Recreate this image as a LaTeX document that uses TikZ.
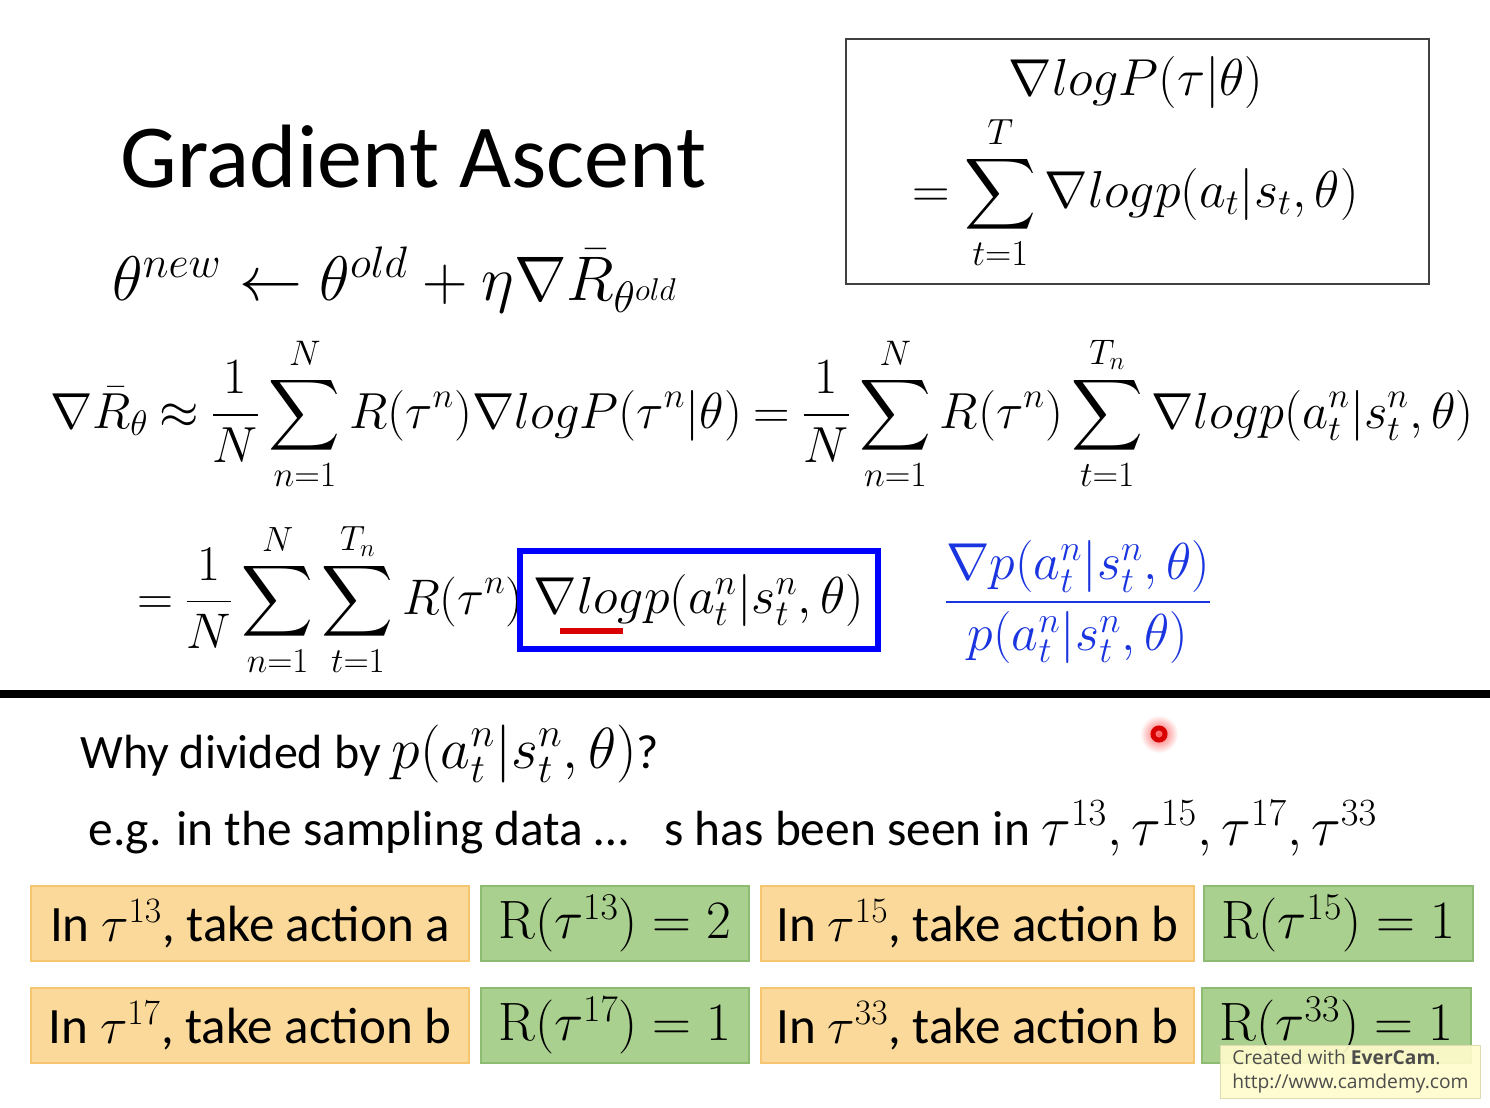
\RequirePackage{fix-cm}
\documentclass[tikz,border=0pt]{standalone}
\usepackage{amsmath}
\usepackage[no-math]{fontspec}
\setmainfont{Carlito}
\newfontfamily\wmfont{Open Sans}
\newcommand{\px}{0.5pt}
\newcommand{\tightmath}{\thickmuskip=4mu plus 2mu\relax}
\definecolor{actfill}{HTML}{FAD99A}
\definecolor{actline}{HTML}{F6C56F}
\definecolor{rewfill}{HTML}{A9D08E}
\definecolor{rewline}{HTML}{8DBB72}
\definecolor{fracblue}{HTML}{1A35E0}

\begin{document}
\begin{tikzpicture}[x=\px, y=-\px,
    eq/.style={inner sep=0pt, anchor=base west, font=\fontsize{25}{30}\selectfont},
    txt/.style={inner sep=0pt, anchor=base west, font=\fontsize{24.7}{29}\selectfont},
    act/.style={draw=actline, fill=actfill, line width=1pt, anchor=north west, minimum height=75*\px, inner sep=0pt, font=\fontsize{25.5}{31}\selectfont},
    rew/.style={draw=rewline, fill=rewfill, line width=1pt, anchor=north west, minimum height=75*\px, inner sep=0pt, font=\fontsize{27}{32}\selectfont}]
    \useasboundingbox (0,0) rectangle (1490,1108);
    \fill[white] (0,0) rectangle (1490,1108);

    % Title and update rule
    \node[inner sep=0pt, anchor=base west, font=\fontsize{45}{54}\selectfont] (title) at (120,187) {Gradient Ascent};
    \node[eq, font=\fontsize{31.5}{36}\selectfont] (update) at (112,300) {$\theta^{new}\leftarrow\theta^{old}+\eta\nabla\bar{R}_{\theta^{old}}$};

    % Box top right
    \node[draw=black!75, line width=1pt, anchor=north west, minimum width=583*\px, minimum height=245*\px] (trajbox) at (845,38) {};
    \node[eq, anchor=base, font=\fontsize{26}{31}\selectfont] (traj-1) at (1136,95) {$\nabla logP(\tau|\theta)$};
    \node[eq, font=\fontsize{26}{31}\selectfont] (traj-2) at (912,207) {$\displaystyle=\sum_{t=1}^{T}\nabla logp(a_t|s_t,\theta)$};

    % Gradient estimate
    \node[eq, font=\fontsize{25.35}{30}\selectfont] (grad-1) at (50,428) {$\tightmath\displaystyle\nabla\bar{R}_\theta\approx\frac{1}{N}\sum_{n=1}^{N}R(\tau^n)\nabla logP(\tau^n|\theta)=\frac{1}{N}\sum_{n=1}^{N}R(\tau^n)\sum_{t=1}^{T_n}\nabla logp(a^n_t|s^n_t,\theta)$};
    \node[eq, anchor=base east] (grad-2) at (524,614) {$\tightmath\displaystyle=\frac{1}{N}\sum_{n=1}^{N}\sum_{t=1}^{T_n}R(\tau^n)$};
    \node[draw=blue, line width=3pt, minimum width=358*\px, minimum height=98*\px, inner sep=0pt, font=\fontsize{26}{31}\selectfont] (logp) at (699,600) {$\nabla logp(a^n_t|s^n_t,\theta)$};
    \draw[red!85!black, line width=3pt] (560,631) -- (623,631);
    \node[text=fracblue, inner sep=0pt, font=\fontsize{26}{31}\selectfont] (ratio) at (1078,602) {$\displaystyle\frac{\nabla p(a^n_t|s^n_t,\theta)}{p(a^n_t|s^n_t,\theta)}$};

    % Separator
    \draw[line width=4pt] (0,694) -- (1490,694);
    \shade[inner color=red!65, outer color=white] (1159,734) circle (19);
    \draw[red!85!black, line width=2.5pt] (1159,734) circle (6);

    % Question
    \node[txt, font=\fontsize{24}{29}\selectfont] (why) at (80,768) {Why divided by {\fontsize{29}{34}\selectfont$p(a^n_t|s^n_t,\theta)$}?};
    \node[txt] (eg) at (88,845) {e.g. in the sampling data \textellipsis\hspace{0.5em} s has been seen in {\fontsize{27.5}{33}\selectfont$\tau^{13},\tau^{15},\tau^{17},\tau^{33}$}};

    % First row
    \node[act, minimum width=438*\px] (act-1-1) at (30,885) {In $\tau^{13}$, take action a};
    \node[rew, minimum width=268*\px] (rew-1-1) at (480,885) {$\mathrm{R}(\tau^{13})=2$};
    \node[act, minimum width=433*\px] (act-1-2) at (760,885) {In $\tau^{15}$, take action b};
    \node[rew, minimum width=269*\px] (rew-1-2) at (1203,885) {$\mathrm{R}(\tau^{15})=1$};

    % Second row
    \node[act, minimum width=438*\px] (act-2-1) at (30,987) {In $\tau^{17}$, take action b};
    \node[rew, minimum width=268*\px] (rew-2-1) at (480,987) {$\mathrm{R}(\tau^{17})=1$};
    \node[act, minimum width=433*\px] (act-2-2) at (760,987) {In $\tau^{33}$, take action b};
    \node[rew, minimum width=269*\px] (rew-2-2) at (1201,987) {$\mathrm{R}(\tau^{33})=1$};

    \node[draw=yellow!40!gray!50, fill=yellow!20, fill opacity=0.9, text opacity=1, text=black!70, anchor=north west, minimum width=260*\px, minimum height=53*\px, align=left, inner sep=2pt, font=\wmfont\fontsize{9.6}{12}\selectfont] (watermark) at (1220,1045) {Created with \textbf{EverCam}.\\http://www.camdemy.com};
\end{tikzpicture}
\end{document}
